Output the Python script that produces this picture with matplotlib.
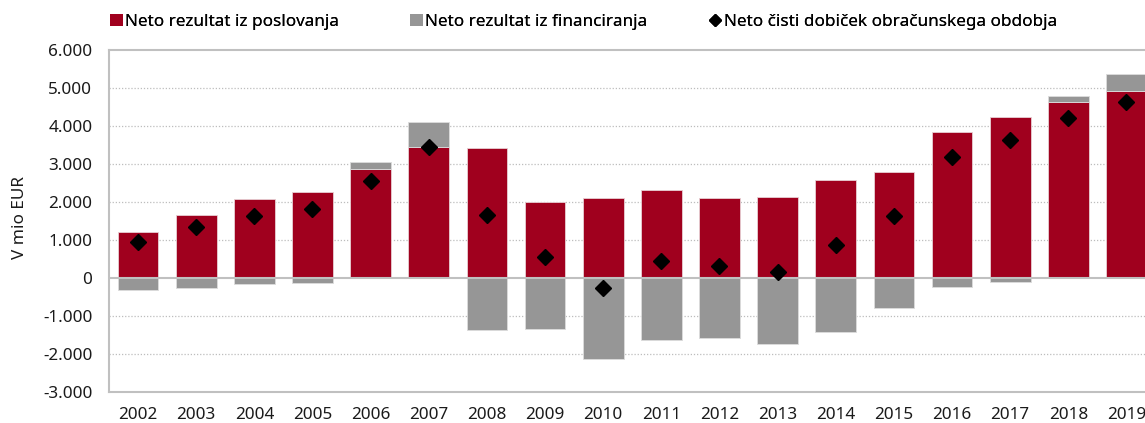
import matplotlib
matplotlib.use("Agg")
import matplotlib.pyplot as plt
from matplotlib.lines import Line2D
from matplotlib.patches import Patch

years = ["2002", "2003", "2004", "2005", "2006", "2007", "2008", "2009", "2010",
         "2011", "2012", "2013", "2014", "2015", "2016", "2017", "2018", "2019"]
poslovanje = [1200, 1660, 2070, 2255, 2860, 3450, 3410, 2010, 2095,
              2305, 2105, 2140, 2570, 2780, 3830, 4250, 4630, 4930]
financiranje = [-320, -270, -160, -120, 190, 660, -1360, -1340, -2140,
                -1620, -1570, -1740, -1410, -800, -245, -115, 150, 430]
dobicek = [940, 1350, 1630, 1810, 2560, 3440, 1650, 545, -270,
           450, 325, 160, 880, 1630, 3185, 3620, 4210, 4620]
yticks = [-3000, -2000, -1000, 0, 1000, 2000, 3000, 4000, 5000, 6000]
ytick_labels = ["-3.000", "-2.000", "-1.000", "0", "1.000", "2.000",
                "3.000", "4.000", "5.000", "6.000"]
legend_labels = ["Neto rezultat iz poslovanja", "Neto rezultat iz financiranja",
                 "Neto čisti dobiček obračunskega obdobja"]

RED = "#A0001E"
GRAY = "#969696"
LINE = "#c0c0c0"

plt.rcParams["font.family"] = ["Noto Sans", "DejaVu Sans"]
FS = 12.3

W, H = 1145, 423
fig = plt.figure(figsize=(W / 100, H / 100), dpi=100)
AW = 1155.5 - 109
ax = fig.add_axes([109 / W, (H - 392) / H, AW / W, (392 - 50) / H])

x = list(range(len(years)))
ax.bar(x, poslovanje, width=0.70, color=RED, edgecolor="#e8d0d4", linewidth=0.6, zorder=2)
fin_bottom = [p if f > 0 else 0 for p, f in zip(poslovanje, financiranje)]
ax.bar(x, financiranje, bottom=fin_bottom, width=0.70, color=GRAY,
       edgecolor="#dcdcdc", linewidth=0.6, zorder=2)
ax.axhline(0, color=LINE, linewidth=1.5, zorder=3)
ax.plot(x, dobicek, linestyle="none", marker="D", markersize=8,
        color="black", zorder=4)

ax.set_xlim(-0.5, len(years) - 0.5)
ax.set_ylim(-3000, 6000)
ax.set_yticks(yticks)
ax.set_yticklabels(ytick_labels, fontsize=FS, color="#1a1a1a")
ax.set_xticks(x)
ax.set_xticklabels(years, fontsize=FS, color="#1a1a1a")
ax.tick_params(axis="both", length=0)
ax.tick_params(axis="y", pad=12)
ax.tick_params(axis="x", pad=11)

for yv in yticks[1:-1]:
    if yv != 0:
        ax.axhline(yv, color="#bdbdbd", linewidth=0.9, linestyle=(0, (1, 1.5)), zorder=1)

for s in ["left", "top", "bottom"]:
    ax.spines[s].set_color(LINE)
    ax.spines[s].set_linewidth(1.5)
ax.spines["right"].set_visible(False)

ax.set_ylabel("V mio EUR", fontsize=FS, color="#1a1a1a")
ax.yaxis.set_label_coords(-81 / AW, 0.51)

handles = [Patch(facecolor=RED, edgecolor="none"),
           Patch(facecolor=GRAY, edgecolor="none"),
           Line2D([], [], linestyle="none", marker="D", markersize=6, color="black")]
anchors_x = [110, 410, 709]
for h, lab, axx in zip(handles, legend_labels, anchors_x):
    lg = fig.legend([h], [lab], loc="center left",
                    bbox_to_anchor=(axx / W, (H - 22) / H), frameon=False, fontsize=FS,
                    handlelength=0.75, handleheight=0.75, handletextpad=0.15,
                    borderaxespad=0, borderpad=0)
    fig.add_artist(lg)

fig.savefig("out.png", dpi=100)
